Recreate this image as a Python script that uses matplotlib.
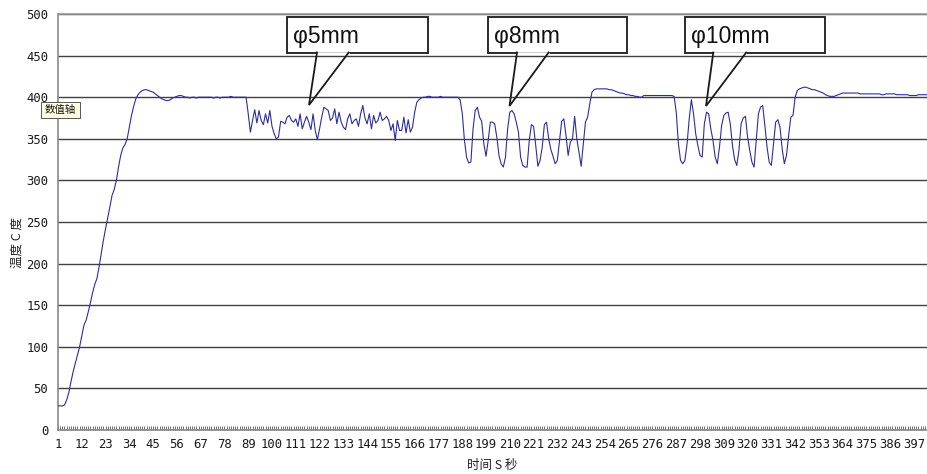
import numpy as np
import matplotlib
matplotlib.use("Agg")
import matplotlib.pyplot as plt
from matplotlib.patches import Rectangle
from matplotlib.lines import Line2D

# ---------------- data (temperature per second) ----------------
rise = [29, 29, 29, 30, 36, 45, 58, 70, 80, 90,
        100, 113, 126, 132, 142, 153, 165, 175, 182, 196,
        212, 228, 242, 255, 268, 282, 289, 300, 316, 330,
        339, 343, 350, 364, 378, 389, 398, 403, 406, 408]
plateau1 = [409, 409, 408, 407, 406, 404, 402, 400, 398, 397,
            396, 396, 397, 399, 400, 401, 402, 402, 401, 400,
            400, 399, 400, 400, 399, 400, 400, 400, 400, 400,
            400, 400, 399, 400, 400, 399, 400, 400, 400, 400,
            401, 400, 400, 400, 400, 400, 400]
phi5 = [400, 380, 358, 372, 385, 369, 384, 372, 367, 380,
        369, 384, 365, 356, 350, 352, 371, 370, 368, 376,
        378, 372, 370, 374, 365, 380, 362, 370, 377, 370,
        361, 380, 360, 349, 362, 376, 388, 386, 384, 372,
        375, 386, 368, 382, 370, 364, 361, 374, 380, 368,
        372, 374, 365, 380, 390, 375, 368, 380, 362, 378,
        369, 372, 382, 372, 374, 377, 372, 360, 368, 348,
        372, 360, 360, 376, 357, 373, 358, 364, 382, 394,
        397, 399]
plateau2 = [400, 400, 401, 401, 400, 400, 400, 400, 401, 400,
            400, 400, 400, 400, 400, 400, 400]
phi8 = [397, 381, 349, 328, 321, 322, 362, 384, 388, 376,
        371, 344, 329, 348, 370, 370, 368, 352, 330, 320,
        316, 328, 362, 382, 384, 380, 370, 358, 328, 318,
        316, 316, 348, 367, 365, 342, 317, 324, 340, 367,
        370, 350, 337, 329, 320, 324, 348, 371, 374, 354,
        330, 346, 350, 377, 350, 334, 317, 344, 370, 376,
        392, 406, 409]
plateau3 = [410, 410, 410, 410, 410, 410, 409, 409, 408, 407,
            406, 405, 405, 404, 403, 403, 402, 402, 401, 401,
            400, 400, 402, 402, 402, 402, 402, 402, 402, 402,
            402, 402, 402, 402, 402, 402, 401]
phi10 = [382, 344, 324, 320, 324, 344, 374, 397, 380, 356,
         342, 330, 328, 368, 382, 380, 362, 348, 328, 320,
         340, 366, 378, 381, 382, 368, 342, 325, 318, 336,
         368, 375, 377, 352, 336, 322, 316, 348, 380, 388,
         390, 366, 340, 322, 318, 344, 370, 373, 364, 338,
         320, 330, 354, 376, 378, 400, 408, 410, 411]
tail = [412, 412, 411, 410, 409, 409, 408, 407, 406, 405,
        403, 402, 401, 401, 401, 402, 403, 404, 405, 405,
        405, 405, 405, 405, 405, 405, 404, 404, 404, 404,
        404, 404, 404, 404, 404, 404, 403, 403, 404, 404,
        404, 404, 404, 403, 403, 403, 403, 403, 403, 402,
        402, 402, 402, 403, 403, 403, 403, 403]

temperature = rise + plateau1 + phi5 + plateau2 + phi8 + plateau3 + phi10 + tail
seconds = list(range(1, len(temperature) + 1))
tick_labels = [str(s) for s in range(1, 398, 11)]
y_ticks = list(range(0, 501, 50))
callout_labels = ["φ5mm", "φ8mm", "φ10mm"]

# ---------------- figure ----------------
W, H = 927, 474
fig = plt.figure(figsize=(W / 100, H / 100), dpi=100)
fig.patch.set_facecolor("white")

def fx(px):
    return px / W

def fy(py):
    return 1 - py / H

ax_l, ax_r, ax_t, ax_b = 58, 927, 14, 430
ax = fig.add_axes([fx(ax_l), fy(ax_b), (ax_r - ax_l) / W, (ax_b - ax_t) / H])
ax.set_facecolor("white")

ax.plot(seconds, temperature, color="#2c2ca6", lw=0.8, zorder=3)

ax.set_xlim(1, len(temperature))
ax.set_ylim(0, 500)

ax.set_yticks(y_ticks)
ax.set_yticklabels([str(v) for v in y_ticks])
ax.set_xticks([int(t) for t in tick_labels])
ax.set_xticklabels(tick_labels)
ax.set_xticks(seconds, minor=True)

mono = ["DejaVu Sans Mono", "DejaVu Sans"]
for lab in ax.get_xticklabels() + ax.get_yticklabels():
    lab.set_fontfamily(mono)
    lab.set_fontsize(8.8)
    lab.set_color("#1a1a1a")

ax.tick_params(axis="x", which="both", direction="in", length=3, width=0.7,
               color="#707070", pad=6)
ax.tick_params(axis="y", which="both", length=0, pad=7)

ax.yaxis.grid(True, color="#404040", lw=1.0, zorder=1)
ax.set_axisbelow(True)

for s in ["top", "right"]:
    ax.spines[s].set_visible(False)
ax.spines["left"].set_color("#8a8a8a")
ax.spines["bottom"].set_color("#8a8a8a")
ax.spines["left"].set_linewidth(1.2)
ax.spines["bottom"].set_linewidth(1.2)

# top line (500 grid) explicitly so it is fully visible
fig.add_artist(Line2D([fx(ax_l), fx(ax_r)], [fy(ax_t), fy(ax_t)], color="#9a9a9a", lw=1.2))

# axis titles
cjk = ["Noto Sans CJK SC", "DejaVu Sans"]
fig.text(fx(492), fy(466), "时间 S 秒", ha="center", va="center", family=cjk,
         fontsize=9, color="#222222")
fig.text(fx(17), fy(243), "温度 C 度", ha="center", va="center", rotation=90,
         family=cjk, fontsize=9, color="#222222")

# tooltip
fig.add_artist(Rectangle((fx(41), fy(118)), (80 - 41) / W, (118 - 102) / H,
                         facecolor="#ffffe1", edgecolor="#555555", lw=0.7,
                         transform=fig.transFigure, zorder=10))
fig.text(fx(60.5), fy(110), "数值轴", ha="center", va="center", family=cjk,
         fontsize=7.5, color="#111111", zorder=11)

# callouts: (box left, box right, base1 x, base2 x, tip x, tip y)
boxes = [(287, 428, 317, 348.7, 309, 105),
         (488, 627, 517, 548.6, 509.5, 106),
         (685, 825, 713.3, 746.2, 706, 106)]
top, bot = 17, 52.5
for text, (L, R, b1, b2, tx, ty) in zip(callout_labels, boxes):
    fig.add_artist(Rectangle((fx(L), fy(bot)), (R - L) / W, (bot - top) / H,
                             facecolor="white", edgecolor="#1a1a1a", lw=1.3,
                             transform=fig.transFigure, zorder=10))
    fig.add_artist(Line2D([fx(b1 + 0.8), fx(b2 - 0.8)], [fy(bot), fy(bot)],
                          color="white", lw=1.8, zorder=11))
    fig.add_artist(Line2D([fx(b1), fx(tx), fx(b2)], [fy(bot), fy(ty), fy(bot)],
                          color="#1a1a1a", lw=1.3, zorder=12, solid_joinstyle="miter"))
    fig.text(fx(L + 6), fy(36), text, ha="left", va="center",
             family=["Liberation Sans", "DejaVu Sans"], fontsize=16.5,
             color="#111111", zorder=13)

fig.savefig("out.png", dpi=100, facecolor="white")
